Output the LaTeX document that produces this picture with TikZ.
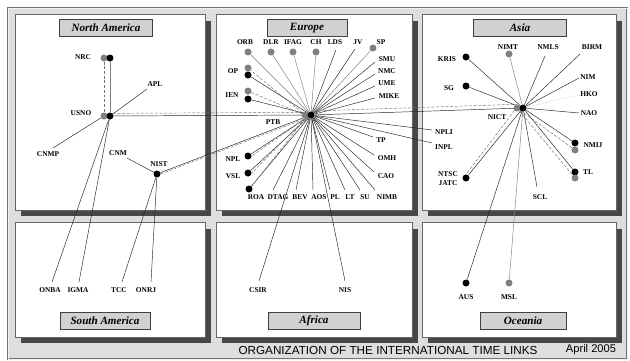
\documentclass[tikz,border=0pt]{standalone}
\usepackage{fontspec}
\setmainfont{Liberation Serif}
\setsansfont{Liberation Sans}
\usetikzlibrary{positioning}
\usetikzlibrary{shadows}
\pgfdeclarelayer{back}
\pgfdeclarelayer{links}
\pgfsetlayers{back,links,main}
\tikzset{frame/.style = {fill = black!13, draw = black!55, line width = 0.4pt,
                         double = black!6, double distance = 0.8pt}}
\tikzset{panel/.style = {fill = white, draw = black!60, line width = 0.6pt}}
\tikzset{pshadow/.style = {fill = black!72}}
\tikzset{region/.style = {draw = black!75, fill = black!18, inner sep = 0,
                          minimum height = 0.51cm,
                          drop shadow = {shadow xshift = 0.8pt, shadow yshift = -0.8pt, fill = black!55},
                          font = \fontsize{9.5}{11}\selectfont\bfseries\itshape}}
\tikzset{lbl/.style = {font = \fontsize{6.3}{7}\selectfont\bfseries, inner sep = 0}}
\tikzset{bdot/.style = {fill, circle, inner sep = 0, minimum size = 0.21cm}}
\tikzset{gdot/.style = {bdot, fill = black!50}}
\tikzset{link/.style = {black!85, line width = 0.4pt}}
\tikzset{glink/.style = {black!50, line width = 0.4pt}}
\tikzset{dlink/.style = {black!55, line width = 0.4pt, dash pattern = on 2.5pt off 1.5pt}}
\tikzset{flink/.style = {black!22, line width = 0.4pt, dash pattern = on 1pt off 1pt}}

\begin{document}
\begin{tikzpicture}[x = 0.03cm, y = -0.03cm]
      \useasboundingbox (0, 0) rectangle (630, 361);

      \begin{pgfonlayer}{back}
      \fill [white] (0, 0) rectangle (630, 361);
      \draw [frame] (8, 8) rectangle (627, 359);
      \fill [pshadow] (21, 21) rectangle (211, 216);
      \draw [panel] (15, 14) rectangle (205, 210);
      \fill [pshadow] (222, 21) rectangle (418, 216);
      \draw [panel] (216, 14) rectangle (412, 210);
      \fill [pshadow] (428, 21) rectangle (622, 216);
      \draw [panel] (422, 14) rectangle (616, 210);
      \fill [pshadow] (21, 229) rectangle (211, 343);
      \draw [panel] (15, 222) rectangle (205, 337);
      \fill [pshadow] (222, 229) rectangle (418, 343);
      \draw [panel] (216, 222) rectangle (412, 337);
      \fill [pshadow] (428, 229) rectangle (622, 343);
      \draw [panel] (422, 222) rectangle (616, 337);
      \end{pgfonlayer}

      \node (natitle) at (106, 28) [region, minimum width = 2.79cm] {North America};
      \node (eutitle) at (307, 28) [region, minimum width = 2.4cm] {Europe};
      \node (astitle) at (520, 28) [region, minimum width = 2.79cm] {Asia};
      \node (satitle) at (105, 321) [region, minimum width = 2.7cm] {South America};
      \node (aftitle) at (314, 321) [region, minimum width = 2.76cm] {Africa};
      \node (octitle) at (523, 321) [region, minimum width = 2.58cm] {Oceania};

      % North America
      \node (nrcg) at (104, 58) [gdot] {};
      \node (nrc) at (110, 58) [bdot] {};
      \node (tnrc) at (83, 57) [lbl] {NRC};
      \node (usnog) at (104, 116) [gdot] {};
      \node (usno) at (110, 116) [bdot] {};
      \node (tusno) at (81, 113) [lbl] {USNO};
      \node (tapl) at (155, 84) [lbl] {APL};
      \coordinate (apl) at (147, 89);
      \node (tcnmp) at (48, 154) [lbl] {CNMP};
      \coordinate (cnmp) at (53, 148);
      \node (tcnm) at (118, 153) [lbl] {CNM};
      \coordinate (cnm) at (127, 158);
      \node (nist) at (157, 174) [bdot] {};
      \node (tnist) at (159, 164) [lbl] {NIST};

      % South America
      \node (tonba) at (50, 290) [lbl] {ONBA};
      \coordinate (onba) at (52, 282);
      \node (tigma) at (78, 290) [lbl] {IGMA};
      \coordinate (igma) at (79, 282);
      \node (ttcc) at (119, 290) [lbl] {TCC};
      \coordinate (tcc) at (122, 282);
      \node (tonrj) at (146, 290) [lbl] {ONRJ};
      \coordinate (onrj) at (151, 282);

      % Europe
      \node (ptbg) at (305, 115) [gdot] {};
      \node (ptb) at (311, 115) [bdot] {};
      \node (tptb) at (273, 122) [lbl] {PTB};
      \node (orb) at (248, 52) [gdot] {};
      \node (torb) at (245, 42) [lbl] {ORB};
      \node (dlr) at (271, 52) [gdot] {};
      \node (tdlr) at (271, 42) [lbl] {DLR};
      \node (ifag) at (293, 52) [gdot] {};
      \node (tifag) at (293, 42) [lbl] {IFAG};
      \node (ch) at (316, 52) [gdot] {};
      \node (tch) at (316, 42) [lbl] {CH};
      \node (tlds) at (335, 42) [lbl] {LDS};
      \coordinate (lds) at (336, 50);
      \node (tjv) at (358, 42) [lbl] {JV};
      \coordinate (jv) at (355, 49);
      \node (sp) at (373, 48) [gdot] {};
      \node (tsp) at (381, 42) [lbl] {SP};
      \node (tsmu) at (387, 59) [lbl] {SMU};
      \coordinate (smu) at (375, 62);
      \node (tnmc) at (387, 71) [lbl] {NMC};
      \coordinate (nmc) at (375, 74);
      \node (tume) at (387, 83) [lbl] {UME};
      \coordinate (ume) at (375, 86);
      \node (tmike) at (389, 96) [lbl] {MIKE};
      \coordinate (mike) at (375, 98);
      \node (opg) at (248, 68) [gdot] {};
      \node (op) at (248, 75) [bdot] {};
      \node (top) at (233, 71) [lbl] {OP};
      \node (ieng) at (248, 91) [gdot] {};
      \node (ien) at (248, 99) [bdot] {};
      \node (tien) at (232, 95) [lbl] {IEN};
      \node (npl) at (248, 156) [bdot] {};
      \node (tnpl) at (233, 159) [lbl] {NPL};
      \node (vsl) at (248, 173) [bdot] {};
      \node (tvsl) at (233, 176) [lbl] {VSL};
      \node (roa) at (249, 189) [bdot] {};
      \node (troa) at (256, 197) [lbl] {ROA};
      \node (tdtag) at (278, 197) [lbl] {DTAG};
      \coordinate (dtag) at (273, 190);
      \node (tbev) at (300, 197) [lbl] {BEV};
      \coordinate (bev) at (296, 190);
      \node (taos) at (319, 197) [lbl] {AOS};
      \coordinate (aos) at (313, 190);
      \node (tpl) at (335, 197) [lbl] {PL};
      \coordinate (pl) at (330, 190);
      \node (tlt) at (350, 197) [lbl] {LT};
      \coordinate (lt) at (345, 190);
      \node (tsu) at (365, 197) [lbl] {SU};
      \coordinate (su) at (360, 190);
      \node (tnimb) at (387, 197) [lbl] {NIMB};
      \coordinate (nimb) at (375, 190);
      \node (ttp) at (381, 140) [lbl] {TP};
      \coordinate (tp) at (373, 137);
      \node (tomh) at (387, 158) [lbl] {OMH};
      \coordinate (omh) at (374, 155);
      \node (tcao) at (386, 176) [lbl] {CAO};
      \coordinate (cao) at (374, 172);
      \node (tnpli) at (444, 132) [lbl] {NPLI};
      \coordinate (npli) at (432, 130);
      \node (tinpl) at (444, 147) [lbl] {INPL};
      \coordinate (inpl) at (432, 143);

      % Africa
      \node (tcsir) at (258, 290) [lbl] {CSIR};
      \coordinate (csir) at (259, 281);
      \node (tnis) at (345, 290) [lbl] {NIS};
      \coordinate (nis) at (345, 281);

      % Asia
      \node (nictg) at (517, 108) [gdot] {};
      \node (nict) at (523, 108) [bdot] {};
      \node (tnict) at (497, 117) [lbl] {NICT};
      \node (nimt) at (509, 54) [gdot] {};
      \node (tnimt) at (508, 47) [lbl] {NIMT};
      \node (tnmls) at (548, 47) [lbl] {NMLS};
      \coordinate (nmls) at (545, 56);
      \node (tbirm) at (592, 47) [lbl] {BIRM};
      \coordinate (birm) at (580, 54);
      \node (kris) at (466, 57) [bdot] {};
      \node (tkris) at (447, 59) [lbl] {KRIS};
      \node (sg) at (466, 86) [bdot] {};
      \node (tsg) at (449, 88) [lbl] {SG};
      \node (tnim) at (588, 77) [lbl] {NIM};
      \coordinate (nim) at (579, 78);
      \node (thko) at (589, 94) [lbl] {HKO};
      \coordinate (hko) at (579, 95);
      \node (tnao) at (589, 113) [lbl] {NAO};
      \coordinate (nao) at (579, 113);
      \node (nmij) at (575, 143) [bdot] {};
      \node (nmijg) at (575, 150) [gdot] {};
      \node (tnmij) at (593, 145) [lbl] {NMIJ};
      \node (tl) at (575, 172) [bdot] {};
      \node (tlg) at (575, 178) [gdot] {};
      \node (ttl) at (588, 172) [lbl] {TL};
      \node (ntsc) at (466, 178) [bdot] {};
      \node (tntsc) at (448, 174) [lbl] {NTSC};
      \node (tjatc) [lbl, below = 0.1cm of tntsc] {JATC};
      \node (tscl) at (540, 197) [lbl] {SCL};
      \coordinate (scl) at (537, 187);

      % Oceania
      \node (aus) at (466, 283) [bdot] {};
      \node (taus) at (466, 297) [lbl] {AUS};
      \node (msl) at (509, 283) [gdot] {};
      \node (tmsl) at (509, 297) [lbl] {MSL};

      \node (tcap) at (388, 350) [font = \sffamily\fontsize{10}{12}\selectfont] {ORGANIZATION OF THE INTERNATIONAL TIME LINKS};
      \node (tdate) at (591, 350) [font = \sffamily\fontsize{9.5}{11}\selectfont] {April 2005};

      \begin{pgfonlayer}{links}
      % North America
      \draw [dlink] (nrcg) -- (usnog);
      \draw [glink] (nrc) -- (usno);
      \draw [link] (usno) -- (apl);
      \draw [link] (usnog) -- (cnmp);
      \draw [link] (cnm) -- (nist);
      \draw [link] (usno) -- (onba);
      \draw [link] (usno) -- (igma);
      \draw [link] (nist) -- (tcc);
      \draw [link] (nist) -- (onrj);
      \draw [link] (usno) -- (ptb);
      \draw [dlink] (usno.north east) -- (ptbg.north west);
      \draw [link] (nist) -- (ptb);
      \draw [dlink] (nist.east) -- (ptbg.south);

      % Europe
      \draw [glink] (ptb) -- (orb);
      \draw [glink] (ptb) -- (dlr);
      \draw [glink] (ptb) -- (ifag);
      \draw [glink] (ptb) -- (ch);
      \draw [link] (ptb) -- (lds);
      \draw [link] (ptb) -- (jv);
      \draw [glink] (ptb) -- (sp);
      \draw [link] (ptb) -- (smu);
      \draw [link] (ptb) -- (nmc);
      \draw [link] (ptb) -- (ume);
      \draw [link] (ptb) -- (mike);
      \draw [link] (ptb) -- (op);
      \draw [dlink] (ptbg) -- (opg);
      \draw [link] (ptb) -- (ien);
      \draw [dlink] (ptbg) -- (ieng);
      \draw [link] (ptb) -- (npl);
      \draw [dlink] (ptbg.south) -- (npl.east);
      \draw [link] (ptb) -- (vsl);
      \draw [dlink] (ptbg.south) -- (vsl.east);
      \draw [link] (ptb) -- (roa);
      \draw [dlink] (ptbg.south) -- (roa.north east);
      \draw [link] (ptb) -- (dtag);
      \draw [link] (ptb) -- (bev);
      \draw [link] (ptb) -- (aos);
      \draw [link] (ptb) -- (pl);
      \draw [link] (ptb) -- (lt);
      \draw [link] (ptb) -- (su);
      \draw [link] (ptb) -- (nimb);
      \draw [link] (ptb) -- (tp);
      \draw [link] (ptb) -- (omh);
      \draw [link] (ptb) -- (cao);
      \draw [link] (ptb) -- (npli);
      \draw [link] (ptb) -- (inpl);
      \draw [link] (ptb) -- (csir);
      \draw [link] (ptb) -- (nis);
      \draw [link] (ptb) -- (nict);
      \draw [dlink] (ptbg.north) -- (nictg.north);

      % Asia
      \draw [link] (nict) -- (kris);
      \draw [link] (nict) -- (sg);
      \draw [glink] (nict) -- (nimt);
      \draw [link] (nict) -- (nmls);
      \draw [link] (nict) -- (birm);
      \draw [link] (nict) -- (nim);
      \draw [flink] (nict) -- (hko);
      \draw [link] (nict) -- (nao);
      \draw [link] (nict) -- (nmij);
      \draw [dlink] (nictg) -- (nmijg);
      \draw [link] (nict) -- (tl);
      \draw [dlink] (nictg) -- (tlg);
      \draw [link] (nict) -- (ntsc);
      \draw [dlink] (nictg.south west) -- (ntsc.north);
      \draw [link] (nict) -- (scl);
      \draw [link] (nict) -- (aus);
      \draw [glink] (nict) -- (msl);
      \end{pgfonlayer}
    \end{tikzpicture}
\end{document}
